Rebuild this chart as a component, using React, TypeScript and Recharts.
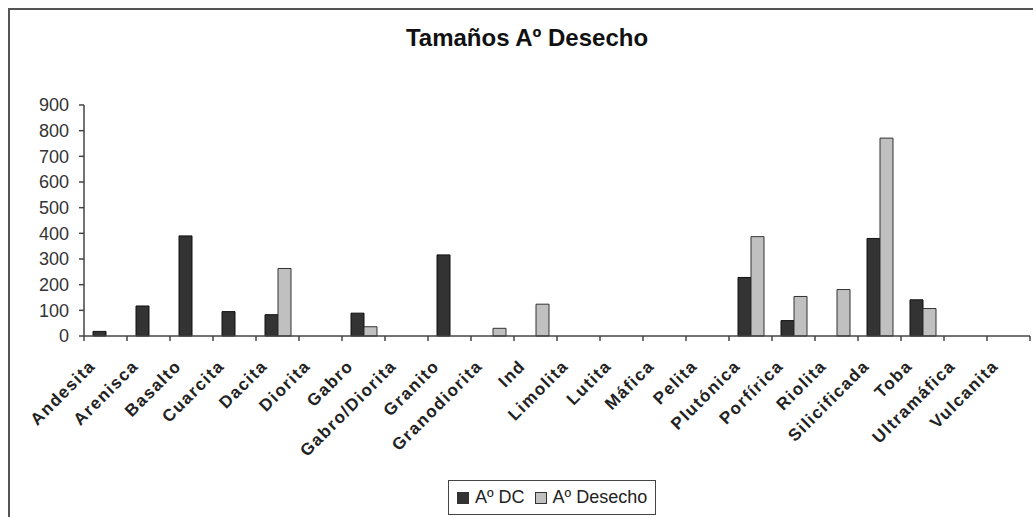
import React from "react";
import { BarChart, Bar, XAxis, YAxis } from "recharts";

const categories = [
  "Andesita",
  "Arenisca",
  "Basalto",
  "Cuarcita",
  "Dacita",
  "Diorita",
  "Gabro",
  "Gabro/Diorita",
  "Granito",
  "Granodiorita",
  "Ind",
  "Limolita",
  "Lutita",
  "Máfica",
  "Pelita",
  "Plutónica",
  "Porfírica",
  "Riolita",
  "Silicificada",
  "Toba",
  "Ultramáfica",
  "Vulcanita",
];

const aoDC = [18, 117, 390, 95, 83, 0, 89, 0, 316, 0, 0, 0, 0, 0, 0, 228, 60, 0, 380, 141, 0, 0];
const aoDesecho = [0, 0, 0, 0, 263, 0, 36, 0, 0, 30, 124, 0, 0, 0, 0, 387, 154, 181, 771, 107, 0, 0];

const yTicks = [0, 100, 200, 300, 400, 500, 600, 700, 800, 900];

const data = categories.map((name, i) => ({
  name,
  dc: aoDC[i],
  desecho: aoDesecho[i],
}));

const FONT = "'Liberation Sans', Arial, sans-serif";
const AXIS = "#444";
const DARK = "#333333";
const LIGHT = "#c0c0c0";

const WIDTH = 1033;
const HEIGHT = 517;
const LEFT = 84;
const RIGHT = 3;
const BAND = (WIDTH - LEFT - RIGHT) / categories.length;

// Excel-style ticks sit between categories, labels slanted at 45°
function CategoryTick(props: any) {
  const { x, y, payload, index } = props;
  const left = x - BAND / 2;
  const last = index === categories.length - 1;
  const tx = x - 9;
  const ty = y + 23;
  return (
    <g>
      <line x1={left} y1={y - 8} x2={left} y2={y - 3} stroke={AXIS} strokeWidth={1.5} />
      {last && (
        <line x1={left + BAND} y1={y - 8} x2={left + BAND} y2={y - 3} stroke={AXIS} strokeWidth={1.5} />
      )}
      <text
        x={tx}
        y={ty}
        transform={`rotate(-45, ${tx}, ${ty})`}
        textAnchor="end"
        fontFamily={FONT}
        fontWeight="bold"
        fontSize={17}
        letterSpacing={1.5}
        fill="#222"
      >
        {payload.value}
      </text>
    </g>
  );
}

function LegendBox() {
  const item = (color: string, label: string, gap: number) => (
    <span style={{ display: "inline-flex", alignItems: "center", marginRight: gap }}>
      <span
        style={{
          width: 10,
          height: 10,
          background: color,
          border: "1px solid #333",
          display: "inline-block",
          marginRight: 6,
        }}
      />
      {label}
    </span>
  );
  return (
    <div
      style={{
        position: "absolute",
        left: 448,
        top: 480,
        border: "1px solid #444",
        padding: "6px 8px 6px 8px",
        fontFamily: FONT,
        fontSize: 18,
        color: "#222",
        background: "#fff",
        display: "inline-flex",
        whiteSpace: "nowrap",
      }}
    >
      {item(DARK, "Aº DC", 10)}
      {item(LIGHT, "Aº Desecho", 0)}
    </div>
  );
}

export default function App() {
  return (
    <div style={{ position: "absolute", left: 0, top: 0, width: WIDTH, height: HEIGHT, background: "#fff", overflow: "hidden" }}>
      <div
        style={{
          position: "absolute",
          left: 8,
          top: 8,
          width: WIDTH,
          height: HEIGHT,
          borderLeft: "2px solid #555",
          borderTop: "2px solid #555",
        }}
      />
      <div
        style={{
          position: "absolute",
          top: 24,
          left: 0,
          width: 1054,
          textAlign: "center",
          fontFamily: FONT,
          fontWeight: "bold",
          fontSize: 24,
          color: "#111",
        }}
      >
        Tamaños Aº Desecho
      </div>
      <div style={{ position: "absolute", left: 0, top: 0 }}>
        <BarChart
          width={WIDTH}
          height={HEIGHT}
          data={data}
          margin={{ top: 105, right: RIGHT, left: 0, bottom: 0 }}
          barGap={0}
          barSize={13}
        >
          <XAxis
            dataKey="name"
            interval={0}
            height={181}
            axisLine={{ stroke: AXIS, strokeWidth: 1.5 }}
            tickLine={false}
            tick={<CategoryTick />}
          />
          <YAxis
            width={LEFT}
            domain={[0, 900]}
            ticks={yTicks}
            interval={0}
            axisLine={{ stroke: AXIS, strokeWidth: 1.5 }}
            tickLine={{ stroke: AXIS, strokeWidth: 1.5 }}
            tickSize={5}
            tickMargin={10}
            tick={{ fontFamily: FONT, fontSize: 18, fill: "#333" }}
          />
          <Bar dataKey="dc" name="Aº DC" fill={DARK} stroke="#111" strokeWidth={1} isAnimationActive={false} />
          <Bar dataKey="desecho" name="Aº Desecho" fill={LIGHT} stroke="#333" strokeWidth={1} isAnimationActive={false} />
        </BarChart>
      </div>
      <LegendBox />
    </div>
  );
}
